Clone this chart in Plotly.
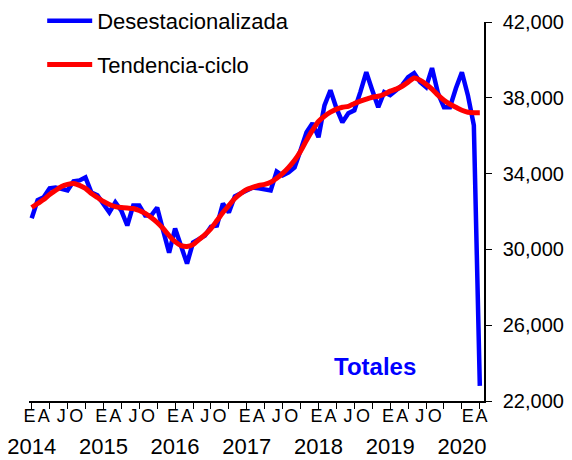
import numpy as np
import pandas as pd
import plotly.graph_objects as go

# ---- data ----
months = pd.date_range("2014-01-01", periods=76, freq="MS")

desestacionalizada = [
    31640, 32600, 32750, 33220, 33270, 33220, 33110, 33590, 33640, 33800, 33000, 32850,
    32400, 31950, 32480, 32050, 31260, 32320, 32320, 31790, 31790, 32210, 31000, 29830,
    31100, 30200, 29250, 30360, 30520, 30730, 31200, 31260, 32420, 31950, 32800, 32950,
    33160, 33270, 33220, 33160, 33110, 34110, 33900, 34060, 34330, 35230, 36180, 36660,
    35920, 37600, 38400, 37450, 36710, 37180, 37340, 38300, 39350, 38400, 37500, 38300,
    38140, 38400, 38670, 39090, 39300, 38830, 38560, 39570, 38240, 37500, 37500, 38500,
    39350, 38140, 36550, 22800,
]

tendencia_ciclo = [
    32210, 32420, 32630, 32900, 33110, 33320, 33430, 33480, 33380, 33220, 32950, 32740,
    32530, 32370, 32260, 32210, 32180, 32160, 32050, 31900, 31680, 31420, 31100, 30730,
    30410, 30200, 30150, 30250, 30520, 30780, 31100, 31520, 31950, 32320, 32690, 32950,
    33160, 33270, 33380, 33430, 33540, 33750, 34010, 34330, 34700, 35180, 35760, 36290,
    36760, 37030, 37240, 37400, 37500, 37550, 37700, 37820, 37930, 38030, 38080, 38190,
    38350, 38460, 38610, 38830, 39040, 38930, 38720, 38460, 38140, 37870, 37660, 37500,
    37340, 37240, 37210, 37210,
]

quarter_letters = ["E", "A", "J", "O"]
years = [2014, 2015, 2016, 2017, 2018, 2019, 2020]
y_ticks = [22000, 26000, 30000, 34000, 38000, 42000]
series_names = ["Desestacionalizada", "Tendencia-ciclo"]
panel_label = "Totales"

# ---- layout helpers (positions are styling, not data) ----
x = np.arange(len(months))
FONT = "Liberation Sans, Arial, sans-serif"
letter_offsets_full = [-0.35, 2.0, 4.95, 7.45]
letter_offsets_last = [1.0, 3.3]

quarter_ticks = list(range(0, len(months), 3))
year_text = []
for q in quarter_ticks:
    m = months[q]
    year_text.append(str(m.year) if m.month == 1 else "")

letter_pos, letter_txt = [], []
for yr in years:
    jan = int(np.where((months.year == yr) & (months.month == 1))[0][0])
    n_q = len([q for q in quarter_ticks if months[q].year == yr])
    offs = letter_offsets_full if n_q == 4 else letter_offsets_last
    for k in range(n_q):
        letter_pos.append(jan + offs[k])
        letter_txt.append(quarter_letters[k])

xrange = [-0.45, 75.7]

# The page body adds an 8px margin, so the figure is 8px smaller on each axis.
W, H = 564, 452

fig = go.Figure()
fig.add_trace(go.Scatter(
    x=x, y=desestacionalizada, mode="lines", name=series_names[0],
    line=dict(color="#0000FF", width=4.5), legendgroup="a",
))
fig.add_trace(go.Scatter(
    x=x, y=tendencia_ciclo, mode="lines", name=series_names[1],
    line=dict(color="#FF0000", width=5, shape="spline", smoothing=0.6), legendgroup="b",
))

fig.add_annotation(
    x=0.76, y=0.09, xref="paper", yref="paper", text="<b>%s</b>" % panel_label,
    showarrow=False, font=dict(family=FONT, size=24, color="#0000FF"),
    xanchor="center", yanchor="middle",
)

fig.update_layout(
    width=W, height=H,
    margin=dict(l=21, r=88, t=14, b=59, autoexpand=False),
    paper_bgcolor="white", plot_bgcolor="white",
    font=dict(family=FONT, size=20, color="black"),
    showlegend=True,
    legend=dict(
        xref="paper", yref="paper",
        x=0.029, y=1.058, xanchor="left", yanchor="top",
        font=dict(family=FONT, size=22, color="black"),
        bgcolor="rgba(0,0,0,0)", borderwidth=0,
        traceorder="grouped", tracegroupgap=12, itemwidth=45,
    ),
    xaxis=dict(
        range=xrange, tickmode="array", tickvals=quarter_ticks, ticktext=year_text,
        ticks="outside", ticklen=6, tickwidth=1, tickcolor="black",
        showline=True, linecolor="black", linewidth=1.5, mirror=False,
        showgrid=False, zeroline=False, tickfont=dict(size=22),
        ticklabelstandoff=19, automargin=False, ticklabeloverflow="allow",
    ),
    xaxis2=dict(
        range=xrange, overlaying="x", anchor="y", side="bottom",
        tickmode="array", tickvals=letter_pos, ticktext=letter_txt,
        ticks="", showline=False, showgrid=False, zeroline=False,
        tickfont=dict(size=18), tickangle=0, automargin=False,
        ticklabelstandoff=2, ticklabeloverflow="allow",
    ),
    yaxis=dict(
        range=[22000, 42000], side="right", tickmode="array", tickvals=y_ticks,
        tickformat=",", ticks="outside", ticklen=6, tickwidth=1, tickcolor="black",
        showline=True, linecolor="black", linewidth=1.5,
        showgrid=False, zeroline=False, tickfont=dict(size=20), automargin=False,
        ticklabelstandoff=7,
    ),
)

# invisible trace so xaxis2 is rendered
fig.add_trace(go.Scatter(x=[xrange[0]], y=[None], xaxis="x2", showlegend=False,
                         hoverinfo="skip", mode="lines"))

fig.write_html("out.html")
